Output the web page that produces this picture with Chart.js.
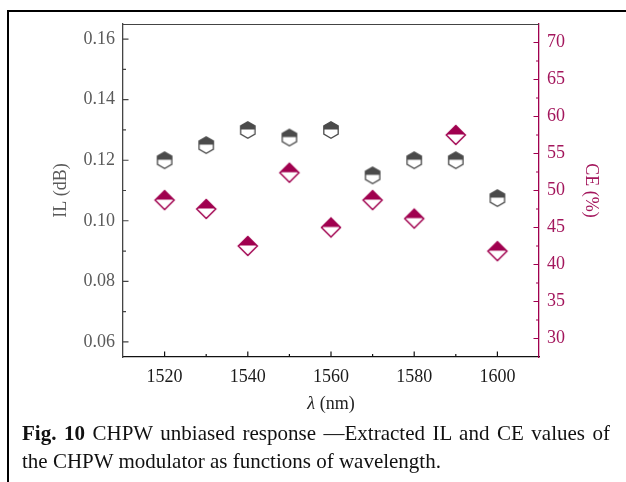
<!DOCTYPE html>
<html>
<head>
<meta charset="utf-8">
<script src="https://cdn.jsdelivr.net/npm/chart.js@4.4.0/dist/chart.umd.min.js"></script>
<style>
  html, body { margin: 0; padding: 0; background: #fff; width: 626px; height: 482px; overflow: hidden; }
  #frame { position: absolute; left: 7px; top: 10px; width: 660px; height: 520px; border: 2px solid #000; box-sizing: border-box; }
  #chart { position: absolute; left: 0; top: 0; }
  #xtitle { position: absolute; left: 231px; width: 200px; top: 392px; text-align: center;
            font: 18px "Liberation Serif", serif; color: #222; line-height: 22px; }
  .cap { position: absolute; left: 22px; width: 588px; font: 21px "Liberation Serif", serif;
         color: #111; line-height: 28px; white-space: nowrap; }
  #cap1 { top: 419px; text-align: justify; text-align-last: justify; white-space: normal; }
  #cap2 { top: 447px; }
</style>
</head>
<body>
<div id="frame"></div>
<canvas id="chart" width="626" height="420"></canvas>
<div id="xtitle"><i>λ</i> (nm)</div>
<div class="cap" id="cap1"><b>Fig. 10</b> CHPW unbiased response —Extracted IL and CE values of</div>
<div class="cap" id="cap2">the CHPW modulator as functions of wavelength.</div>
<script>
// values
var wavelengths = [1520, 1530, 1540, 1550, 1560, 1570, 1580, 1590, 1600];
var ilValues = [0.120, 0.125, 0.130, 0.1275, 0.130, 0.115, 0.120, 0.120, 0.1075];
var ceValues = [48.7, 47.5, 42.5, 52.4, 45.0, 48.7, 46.2, 57.5, 41.8];

// tick labels
var xTicks = [1520, 1540, 1560, 1580, 1600];
var ilTicks = [0.06, 0.08, 0.10, 0.12, 0.14, 0.16];
var ceTicks = [30, 35, 40, 45, 50, 55, 60, 65, 70];

var grey = '#4b4b4b';
var wine = '#a0004f';
var serif = '"Liberation Serif", "Times New Roman", serif';

// half filled markers
function hexMarker(color) {
    var c = document.createElement('canvas');
    c.width = 20; c.height = 20;
    var g = c.getContext('2d');
    var r = 8.3, w = r * Math.cos(Math.PI / 6);
    g.translate(10, 10);
    g.fillStyle = '#fff';
    g.beginPath();
    g.moveTo(0, -r); g.lineTo(w, -r / 2); g.lineTo(w, r / 2);
    g.lineTo(0, r); g.lineTo(-w, r / 2); g.lineTo(-w, -r / 2);
    g.closePath();
    g.fill();
    g.fillStyle = color;
    g.beginPath();
    g.moveTo(-w, -0.6); g.lineTo(-w, -r / 2); g.lineTo(0, -r);
    g.lineTo(w, -r / 2); g.lineTo(w, -0.6);
    g.closePath();
    g.fill();
    g.strokeStyle = color;
    g.lineWidth = 1.3;
    g.beginPath();
    g.moveTo(0, -r); g.lineTo(w, -r / 2); g.lineTo(w, r / 2);
    g.lineTo(0, r); g.lineTo(-w, r / 2); g.lineTo(-w, -r / 2);
    g.closePath();
    g.stroke();
    return c;
}

function diamondMarker(color) {
    var c = document.createElement('canvas');
    c.width = 24; c.height = 24;
    var g = c.getContext('2d');
    var r = 9.5;
    g.translate(12, 12);
    g.fillStyle = '#fff';
    g.beginPath();
    g.moveTo(0, -r); g.lineTo(r, 0); g.lineTo(0, r); g.lineTo(-r, 0);
    g.closePath();
    g.fill();
    g.fillStyle = color;
    g.beginPath();
    g.moveTo(-r + 0.6, -0.6); g.lineTo(0, -r); g.lineTo(r - 0.6, -0.6);
    g.closePath();
    g.fill();
    g.strokeStyle = color;
    g.lineWidth = 1.5;
    g.beginPath();
    g.moveTo(0, -r); g.lineTo(r, 0); g.lineTo(0, r); g.lineTo(-r, 0);
    g.closePath();
    g.stroke();
    return c;
}

function pairs(ys) {
    return wavelengths.map(function (x, i) { return { x: x, y: ys[i] }; });
}

function setTicks(list) {
    return function (scale) {
        scale.ticks = list.map(function (v) { return { value: v }; });
    };
}

// inward major + minor ticks and the top frame line
var frameTicks = {
    id: 'frameTicks',
    afterDraw: function (chart) {
        var ctx = chart.ctx, a = chart.chartArea;
        var sx = chart.scales.x, sl = chart.scales.y, sr = chart.scales.y1;
        ctx.save();
        ctx.lineWidth = 1.2;

        ctx.strokeStyle = '#444';
        ctx.beginPath();
        ctx.moveTo(a.left, a.top + 0.5); ctx.lineTo(a.right, a.top + 0.5);
        ctx.stroke();

        function marks(list, scale, color, draw) {
            ctx.strokeStyle = color;
            ctx.beginPath();
            for (var i = 0; i < list.length; i++) {
                draw(scale.getPixelForValue(list[i]), 5.5);
                if (i < list.length - 1) {
                    draw(scale.getPixelForValue((list[i] + list[i + 1]) / 2), 3);
                }
            }
            ctx.stroke();
        }
        marks(ilTicks, sl, '#444', function (p, len) {
            ctx.moveTo(a.left, p); ctx.lineTo(a.left + len, p);
        });
        marks(ceTicks, sr, wine, function (p, len) {
            ctx.moveTo(a.right, p); ctx.lineTo(a.right - len, p);
        });
        marks(xTicks, sx, '#111', function (p, len) {
            ctx.moveTo(p, a.bottom); ctx.lineTo(p, a.bottom - len);
        });
        ctx.restore();
    }
};

var ctx = document.getElementById('chart').getContext('2d');
var chart = new Chart(ctx, {
    type: 'scatter',
    data: {
        datasets: [{
            label: 'IL',
            data: pairs(ilValues),
            yAxisID: 'y',
            pointStyle: hexMarker(grey),
            order: 2
        }, {
            label: 'CE',
            data: pairs(ceValues),
            yAxisID: 'y1',
            pointStyle: diamondMarker(wine),
            order: 1
        }]
    },
    options: {
        responsive: false,
        animation: false,
        events: [],
        layout: { padding: { top: 24, left: 0, right: 0, bottom: 0 } },
        plugins: { legend: { display: false }, tooltip: { enabled: false } },
        scales: {
            x: {
                type: 'linear',
                min: 1510, max: 1610,
                afterBuildTicks: setTicks(xTicks),
                afterFit: function (s) { s.height = 63; },
                grid: { display: false, drawTicks: false },
                border: { display: true, color: '#111', width: 1.3 },
                ticks: {
                    padding: 9, color: '#1a1a1a', font: { family: serif, size: 18 },
                    callback: function (v) { return String(v); }
                }
            },
            y: {
                position: 'left',
                min: 0.055, max: 0.165,
                afterBuildTicks: setTicks(ilTicks),
                afterFit: function (s) { s.width = 123; },
                grid: { display: false, drawTicks: false },
                border: { display: true, color: '#444', width: 1.3 },
                ticks: {
                    padding: 8, color: '#5a5a5a', font: { family: serif, size: 18 },
                    callback: function (v) { return v.toFixed(2); }
                },
                title: {
                    display: true, text: 'IL (dB)', color: '#5a5a5a',
                    font: { family: serif, size: 18 }, padding: { top: 50, bottom: 0 }
                }
            },
            y1: {
                position: 'right',
                min: 27.5, max: 72.5,
                afterBuildTicks: setTicks(ceTicks),
                afterFit: function (s) { s.width = 87; },
                grid: { display: false, drawTicks: false },
                border: { display: true, color: wine, width: 1.3 },
                ticks: { padding: 8, color: '#a3165c', font: { family: serif, size: 18 } },
                title: {
                    display: true, text: 'CE (%)', color: '#a3165c',
                    font: { family: serif, size: 18 }, padding: { top: 24, bottom: 0 }
                }
            }
        }
    },
    plugins: [frameTicks]
});
</script>
</body>
</html>
